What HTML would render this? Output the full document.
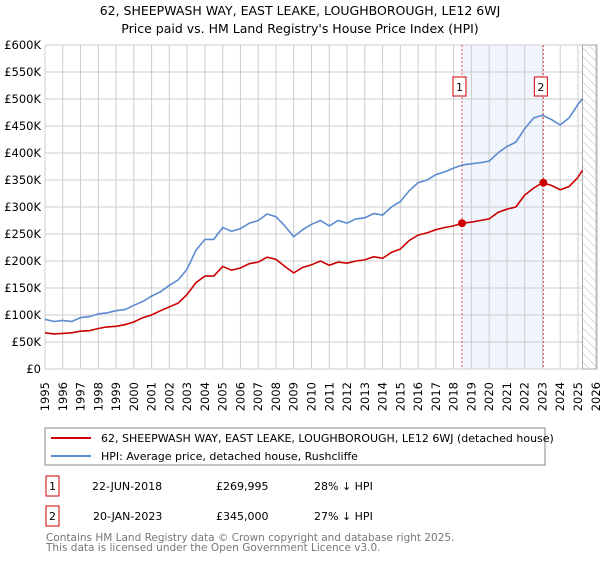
<!DOCTYPE html>
<html><head><meta charset="utf-8"><style>
body{margin:0;background:#fff;font-family:"DejaVu Sans","Liberation Sans",sans-serif;}
svg text{font-family:"DejaVu Sans","Liberation Sans",sans-serif;}
</style></head><body>
<svg id="chart" width="600" height="560" viewBox="0 0 600 560" xmlns="http://www.w3.org/2000/svg">
<defs><pattern id="hatch" width="6" height="6" patternUnits="userSpaceOnUse" patternTransform="rotate(-45)"><line x1="0" y1="0" x2="0" y2="6" stroke="#bbb" stroke-width="1"/></pattern></defs>
<text x="300" y="15" text-anchor="middle" font-size="12.5" fill="#000">62, SHEEPWASH WAY, EAST LEAKE, LOUGHBOROUGH, LE12 6WJ</text>
<text x="300" y="33" text-anchor="middle" font-size="12.5" fill="#000">Price paid vs. HM Land Registry's House Price Index (HPI)</text>
<g id="plot"></g>
<rect x="45" y="428" width="500" height="37" fill="#fff" stroke="#888"/>
<line x1="51" y1="438" x2="91" y2="438" stroke="#cc0000" stroke-width="2"/>
<text x="101" y="442" font-size="11">62, SHEEPWASH WAY, EAST LEAKE, LOUGHBOROUGH, LE12 6WJ (detached house)</text>
<line x1="51" y1="456" x2="91" y2="456" stroke="#5b8bd0" stroke-width="2"/>
<text x="101" y="460" font-size="11">HPI: Average price, detached house, Rushcliffe</text>
<g font-size="11">
<rect x="46" y="476" width="13" height="20" fill="#fff" stroke="#cc0000"/>
<text x="52.5" y="490" text-anchor="middle">1</text>
<text x="92" y="490">22-JUN-2018</text><text x="216" y="490">£269,995</text><text x="314" y="490">28% ↓ HPI</text></g>
<g font-size="11">
<rect x="46" y="506" width="13" height="20" fill="#fff" stroke="#cc0000"/>
<text x="52.5" y="520" text-anchor="middle">2</text>
<text x="93" y="520">20-JAN-2023</text><text x="216" y="520">£345,000</text><text x="314" y="520">27% ↓ HPI</text></g>
<text x="46" y="541" font-size="10.5" fill="#777">Contains HM Land Registry data © Crown copyright and database right 2025.</text>
<text x="46" y="551" font-size="10.5" fill="#777">This data is licensed under the Open Government Licence v3.0.</text>
</svg>
<script>
const years=[1995,1995.5,1996,1996.5,1997,1997.5,1998,1998.5,1999,1999.5,2000,2000.5,2001,2001.5,2002,2002.5,2003,2003.5,2004,2004.5,2005,2005.5,2006,2006.5,2007,2007.5,2008,2008.5,2009,2009.5,2010,2010.5,2011,2011.5,2012,2012.5,2013,2013.5,2014,2014.5,2015,2015.5,2016,2016.5,2017,2017.5,2018,2018.5,2019,2019.5,2020,2020.5,2021,2021.5,2022,2022.5,2023,2023.5,2024,2024.5,2025,2025.25];
const hpiValues=[92,88,90,88,95,97,102,104,108,110,118,125,135,143,155,165,185,220,240,240,262,255,260,270,275,287,282,265,245,258,268,275,265,275,270,278,280,288,285,300,310,330,345,350,360,365,372,378,380,382,385,400,412,420,445,465,470,462,452,465,490,500];
const propValues=[67,65,66,67,70,71,75,78,79,82,87,95,100,108,115,122,138,160,172,172,190,183,187,195,198,207,203,190,178,188,193,200,192,198,196,200,202,208,205,216,222,238,248,252,258,262,265,270,272,275,278,290,296,300,322,335,345,340,332,338,355,368];
const saleYears=[2018.47,2023.05];
const salePrices=[269995,345000];
const saleLabels=["1","2"];
const yTicks=[0,50000,100000,150000,200000,250000,300000,350000,400000,450000,500000,550000,600000];
const yTickLabels=["£0","£50K","£100K","£150K","£200K","£250K","£300K","£350K","£400K","£450K","£500K","£550K","£600K"];
const xTicks=[1995,1996,1997,1998,1999,2000,2001,2002,2003,2004,2005,2006,2007,2008,2009,2010,2011,2012,2013,2014,2015,2016,2017,2018,2019,2020,2021,2022,2023,2024,2025,2026];

const L=45,R=597,T=45,B=369,X0=1995,X1=2026.07,Y1=600000;
const xs=y=>L+(y-X0)/(X1-X0)*(R-L);
const ys=v=>B-v/Y1*(B-T);
const NS="http://www.w3.org/2000/svg";
const g=document.getElementById('plot');
function mk(tag,attrs){const e=document.createElementNS(NS,tag);for(const k in attrs)e.setAttribute(k,attrs[k]);g.appendChild(e);return e;}
let sh=mk('rect',{x:xs(saleYears[0]),y:T,width:xs(saleYears[1])-xs(saleYears[0]),height:B-T,fill:'#eef3fc',opacity:0.8});


yTicks.forEach((v,i)=>{
 let l=mk('line',{x1:L,x2:xs(2025.25),y1:ys(v),y2:ys(v),stroke:'#ccc'});
 
 
 let t=mk('text',{x:L-4,y:ys(v)+4,'text-anchor':'end','font-size':'11.5',fill:'#000'});t.textContent=yTickLabels[i];
 
 
});
xTicks.forEach(y=>{
 let l=mk('line',{x1:xs(y),x2:xs(y),y1:T,y2:B,stroke:'#ccc'});
 
 
 let t=mk('text',{x:0,y:0,'text-anchor':'end','font-size':'11.5',transform:`translate(${xs(y)+4},382) rotate(-90)`});t.textContent=y;
 
 
});
let hz=mk('rect',{x:xs(2025.25),y:T,width:R-xs(2025.25),height:B-T,fill:'url(#hatch)',stroke:'#aaa'});


saleYears.forEach((y,i)=>{
 let l=mk('line',{x1:xs(y),x2:xs(y),y1:T,y2:B,stroke:'#e05050','stroke-dasharray':'2,2'});
 
 
 let b=mk('rect',{x:xs(y)-9,y:77,width:13,height:19,fill:'#fff',stroke:'#cc0000'});
 
 
 let t=mk('text',{x:xs(y)-2.5,y:91,'text-anchor':'middle','font-size':'11'});t.textContent=saleLabels[i];
 
 
});
function path(vals,color,name){
 const d=years.map((y,i)=>(i?'L':'M')+xs(y).toFixed(1)+','+ys(vals[i]*1000).toFixed(1)).join('');
 let p=mk('path',{d:d,fill:'none',stroke:color,'stroke-width':1.6});
 
 
}
path(hpiValues,'#5b8bd0','hpi-line');
path(propValues,'#cc0000','property-price-line');
saleYears.forEach((y,i)=>{
 let c=mk('circle',{cx:xs(y),cy:ys(salePrices[i]),r:4,fill:'#cc0000'});
 
 
});
</script>
</body></html>
